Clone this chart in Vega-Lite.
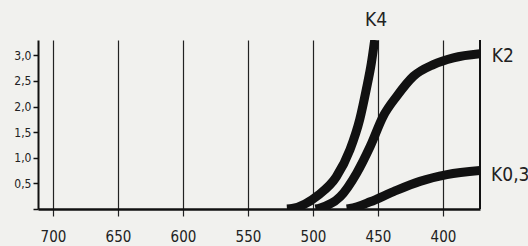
{
  "$schema": "https://vega.github.io/schema/vega-lite/v6.json",
  "width": 442,
  "height": 169,
  "autosize": {"type": "none"},
  "padding": {"left": 38, "top": 40, "right": 48, "bottom": 37},
  "background": "#f1f1ee",
  "config": {
    "view": {"stroke": null},
    "font": "DejaVu Sans Condensed",
    "axis": {"labelOverlap": false, "labelFlush": false, "title": null, "labelFont": "DejaVu Sans Condensed", "labelColor": "#222"},
    "axisX": {
      "grid": true,
      "gridColor": "#222",
      "gridWidth": 1.2,
      "gridOpacity": 1,
      "domainColor": "#111",
      "domainWidth": 2.5,
      "tickColor": "#222",
      "tickSize": 7,
      "tickWidth": 1.2,
      "labelPadding": 13,
      "labelFontSize": 15
    },
    "axisY": {
      "grid": false,
      "domainColor": "#111",
      "domainWidth": 2,
      "tickColor": "#111",
      "tickSize": 5,
      "tickWidth": 1.5,
      "labelPadding": 2,
      "labelFontSize": 12
    }
  },
  "datasets": {
    "curves": [
      {"series": "K4", "wl": 520, "v": 0},
      {"series": "K4", "wl": 516, "v": 0.01},
      {"series": "K4", "wl": 496, "v": 0.27},
      {"series": "K4", "wl": 482, "v": 0.63},
      {"series": "K4", "wl": 471.5, "v": 1.16},
      {"series": "K4", "wl": 464, "v": 1.75},
      {"series": "K4", "wl": 459, "v": 2.33},
      {"series": "K4", "wl": 455, "v": 2.86},
      {"series": "K4", "wl": 452.5, "v": 3.3},
      {"series": "K2", "wl": 498, "v": 0},
      {"series": "K2", "wl": 494.6, "v": 0.02},
      {"series": "K2", "wl": 479, "v": 0.24},
      {"series": "K2", "wl": 466.4, "v": 0.7},
      {"series": "K2", "wl": 456, "v": 1.22},
      {"series": "K2", "wl": 446, "v": 1.81},
      {"series": "K2", "wl": 435.6, "v": 2.2},
      {"series": "K2", "wl": 422.8, "v": 2.59},
      {"series": "K2", "wl": 407.4, "v": 2.82},
      {"series": "K2", "wl": 392, "v": 2.95},
      {"series": "K2", "wl": 371.5, "v": 3.03},
      {"series": "K0,3", "wl": 474, "v": 0},
      {"series": "K0,3", "wl": 471.5, "v": 0.01},
      {"series": "K0,3", "wl": 456, "v": 0.14},
      {"series": "K0,3", "wl": 438, "v": 0.34},
      {"series": "K0,3", "wl": 417.7, "v": 0.54},
      {"series": "K0,3", "wl": 397, "v": 0.67},
      {"series": "K0,3", "wl": 371.5, "v": 0.75}
    ],
    "labels": [
      {"label": "K4", "wl": 460, "v": 3.7},
      {"label": "K2", "wl": 362.4, "v": 2.98},
      {"label": "K0,3", "wl": 363, "v": 0.67}
    ],
    "border": [{"wl": 371.5}]
  },
  "layer": [
    {
      "data": {"name": "curves"},
      "mark": {"type": "line", "color": "#111", "strokeWidth": 9, "interpolate": "monotone", "clip": true},
      "encoding": {
        "x": {
          "field": "wl", "type": "quantitative",
          "scale": {"domain": [711.5, 371.5], "nice": false, "zero": false},
          "axis": {"values": [700, 650, 600, 550, 500, 450, 400]}
        },
        "y": {
          "field": "v", "type": "quantitative",
          "scale": {"domain": [0, 3.3], "nice": false},
          "axis": {
            "tickCount": 7,
            "labelExpr": "datum.value == 0 ? '' : replace(format(datum.value, '.1f'), '.', ',')"
          }
        },
        "detail": {"field": "series"}
      }
    },
    {
      "data": {"name": "border"},
      "mark": {"type": "rule", "color": "#111", "strokeWidth": 2},
      "encoding": {
        "x": {"field": "wl", "type": "quantitative"}
      }
    },
    {
      "data": {"name": "labels"},
      "mark": {"type": "text", "fontSize": 19, "color": "#222", "align": "left", "baseline": "middle", "font": "DejaVu Sans Condensed"},
      "encoding": {
        "x": {"field": "wl", "type": "quantitative"},
        "y": {"field": "v", "type": "quantitative"},
        "text": {"field": "label"}
      }
    }
  ]
}
